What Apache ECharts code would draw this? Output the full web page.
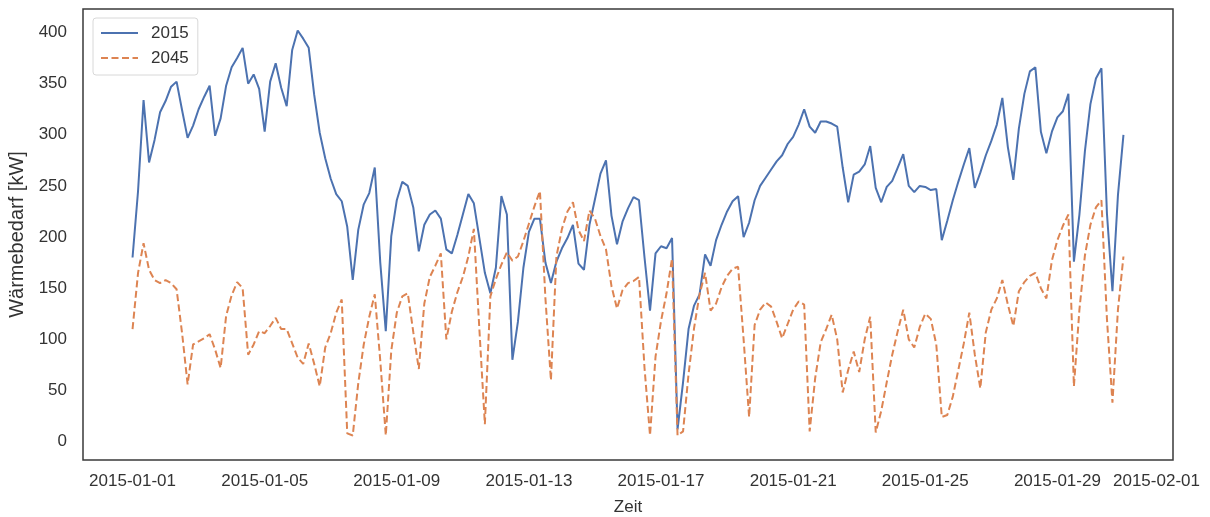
<!DOCTYPE html>
<html>
<head>
<meta charset="utf-8">
<script src="https://cdn.jsdelivr.net/npm/echarts@6/dist/echarts.min.js"></script>
<style>
  html, body { margin: 0; padding: 0; background: #fff; }
  #chart { width: 1210px; height: 517px; }
</style>
</head>
<body>
<div id="chart"></div>
<script>
// Wärmebedarf in kW, 4-Stunden-Werte ab 2015-01-01 00:00 (x in Tagen)
const stepHours = 4;

const tickDays = [0, 4, 8, 12, 16, 20, 24, 28, 31];
const tickLabels = ['2015-01-01', '2015-01-05', '2015-01-09', '2015-01-13', '2015-01-17',
                    '2015-01-21', '2015-01-25', '2015-01-29', '2015-02-01'];

const names = ['2015', '2045'];

const values2015 = [
  180, 245, 334, 273, 295, 322,
  333, 347, 352, 324, 297, 309,
  325, 337, 348, 299, 316, 348,
  366, 375, 385, 350, 359, 345,
  303, 352, 370, 346, 328, 383,
  402, 394, 385, 339, 302, 277,
  257, 242, 235, 210, 158, 207,
  232, 243, 268, 175, 108, 201,
  236, 254, 250, 229, 186, 212,
  222, 226, 218, 188, 184, 202,
  222, 242, 233, 199, 165, 145,
  170, 240, 222, 80, 117, 170,
  205, 218, 218, 175, 155, 176,
  189, 199, 212, 174, 168, 212,
  237, 262, 275, 221, 193, 215,
  228, 239, 236, 180, 128, 184,
  191, 189, 199, 12, 58, 110,
  133, 144, 183, 172, 197, 212,
  225, 235, 240, 200, 214, 236,
  250, 258, 266, 274, 280, 291,
  298, 310, 325, 308, 302, 313,
  313, 311, 308, 268, 234, 261,
  264, 271, 289, 248, 234, 249,
  255, 268, 281, 250, 244, 250,
  249, 246, 247, 197, 216, 236,
  254, 271, 287, 248, 263, 280,
  294, 310, 336, 288, 256, 306,
  340, 362, 366, 303, 282, 303,
  317, 323, 340, 176, 222, 284,
  330, 355, 365, 223, 147, 241,
  300
];

const values2045 = [
  110, 165, 194, 168, 158, 155,
  158, 155, 149, 106, 56, 95,
  98, 101, 105, 90, 72, 123,
  143, 156, 150, 85, 95, 108,
  106, 113, 121, 110, 110, 96,
  82, 76, 96, 76, 54, 92,
  106, 126, 139, 8, 6, 57,
  95, 122, 144, 79, 6, 89,
  126, 142, 145, 107, 71, 135,
  161, 172, 184, 100, 127, 146,
  161, 181, 208, 110, 17, 142,
  159, 173, 185, 177, 181, 196,
  213, 230, 245, 140, 60, 181,
  208, 225, 234, 207, 196, 226,
  218, 201, 188, 152, 130, 148,
  155, 157, 161, 72, 6, 83,
  118, 145, 179, 6, 10, 66,
  111, 144, 165, 128, 135, 151,
  162, 169, 171, 100, 24, 114,
  129, 136, 132, 117, 101, 115,
  129, 137, 134, 10, 62, 97,
  110, 124, 100, 48, 70, 88,
  68, 100, 122, 9, 30, 58,
  85, 108, 129, 100, 92, 112,
  125, 120, 95, 24, 26, 44,
  70, 96, 126, 85, 52, 107,
  129, 140, 158, 134, 113, 147,
  156, 162, 165, 150, 140, 177,
  197, 211, 222, 54, 129, 182,
  212, 229, 236, 120, 38, 129,
  181
];

const font = "'Liberation Sans', Arial, sans-serif";
const textColor = '#333';

function toPairs(vals){
    return vals.map((v, i) => [i * stepHours / 24, v]);
}

const chart = echarts.init(document.getElementById('chart'));
chart.setOption({
    backgroundColor: '#fff',
    animation: false,
    textStyle: { fontFamily: font },
    grid: {
        left: 83, right: 37, top: 9, bottom: 57,
        outerBoundsMode: 'none',
        containLabel: false,
        show: true,
        borderColor: '#3a3a3a',
        borderWidth: 1.5,
        backgroundColor: '#fff'
    },
    legend: {
        data: names,
        orient: 'vertical',
        left: 93, top: 18,
        itemWidth: 37, itemHeight: 14,
        itemGap: 5,
        padding: [5, 9, 7, 7],
        backgroundColor: 'rgba(255,255,255,0.8)',
        borderColor: '#d8d8d8', borderWidth: 1, borderRadius: 3,
        itemStyle: { opacity: 0 },
        textStyle: { fontSize: 17, color: textColor, fontFamily: font, lineHeight: 20, padding: [0, 0, 0, 8] }
    },
    xAxis: {
        type: 'value',
        min: -1.5, max: 31.5, interval: 0.5,
        name: 'Zeit',
        nameLocation: 'middle',
        nameGap: 39,
        nameTextStyle: { fontSize: 17, color: textColor, fontFamily: font },
        axisLine: { show: false },
        axisTick: { show: false },
        splitLine: { show: false },
        axisLabel: {
            interval: 0,
            margin: 13,
            fontSize: 17,
            color: textColor,
            fontFamily: font,
            formatter: function(v){
                const i = tickDays.findIndex(d => Math.abs(d - v) < 1e-6);
                return i >= 0 ? tickLabels[i] : '';
            }
        }
    },
    yAxis: {
        type: 'value',
        min: -18, max: 423, splitNumber: 9,
        name: 'Wärmebedarf [kW]',
        nameLocation: 'middle',
        nameGap: 45,
        nameTextStyle: { fontSize: 20, color: textColor, fontFamily: font },
        axisLine: { show: false },
        axisTick: { show: false },
        splitLine: { show: false },
        axisLabel: {
            showMinLabel: false,
            showMaxLabel: false,
            margin: 16,
            fontSize: 17,
            color: textColor,
            fontFamily: font
        }
    },
    series: [
        {
            name: names[0],
            type: 'line',
            data: toPairs(values2015),
            symbol: 'none',
            color: '#4c72b0',
            lineStyle: { width: 2, color: '#4c72b0' }
        },
        {
            name: names[1],
            type: 'line',
            data: toPairs(values2045),
            symbol: 'none',
            color: '#dd8452',
            lineStyle: { width: 2, color: '#dd8452', type: [7, 3.5] }
        }
    ]
});
</script>
</body>
</html>
